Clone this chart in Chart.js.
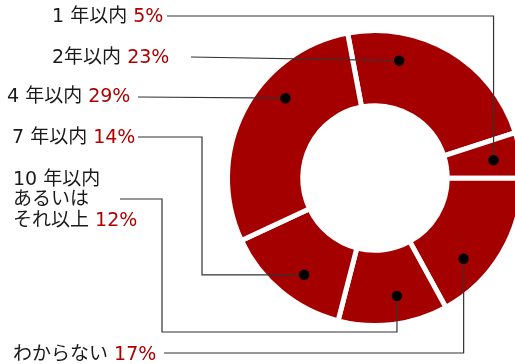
<!DOCTYPE html>
<html>
<head>
<meta charset="utf-8">
<script src="https://cdn.jsdelivr.net/npm/chart.js@4/dist/chart.umd.min.js"></script>
<style>
  html, body { margin: 0; padding: 0; background: #fff; overflow: hidden; }
  #wrap { position: relative; width: 540px; height: 364px; }
</style>
</head>
<body>
<div id="wrap"><canvas id="chartRing" width="540" height="364"></canvas></div>
<script>
// ring segments, clockwise from just left of 12 o'clock
const categories = [
  ['2年以内'],
  ['1 年以内'],
  ['わからない'],
  ['10 年以内', 'あるいは', 'それ以上'],
  ['7 年以内'],
  ['4 年以内']
];
const values = [23, 5, 17, 12, 14, 29];

// label placement and leader routes (one per segment, same order)
const callouts = [
  { tx: 52, ty: 58, lx: 191, ly: 57, route: [], at: 0.27 },
  { tx: 52, ty: 17, lx: 167, ly: 16, route: [{ x: 'dot' }], at: 0.52 },
  { tx: 13, ty: 355, lx: 164, ly: 353, route: [{ x: 'dot' }], at: 0.69 },
  { tx: 13, ty: 180, lx: 120, ly: 199, route: [{ x: 162 }, { y: 332 }, { x: 'dot' }], at: 0.42 },
  { tx: 12, ty: 138, lx: 138, ly: 137, route: [{ x: 202 }, { y: 'dot' }], at: 0.43 },
  { tx: 7, ty: 97, lx: 138, ly: 97, route: [], at: 0.64 }
];

const FONT = '19px "DejaVu Sans", "Noto Sans CJK JP", sans-serif';
const LINE_H = 20.5;

const calloutPlugin = {
  id: 'callouts',
  afterDatasetsDraw(chart) {
    const ctx = chart.ctx;
    const arcs = chart.getDatasetMeta(0).data;
    ctx.save();
    arcs.forEach((arc, i) => {
      const c = callouts[i];
      const p = arc.getProps(['x', 'y', 'startAngle', 'endAngle', 'innerRadius', 'outerRadius'], true);
      const a = p.startAngle + (p.endAngle - p.startAngle) * c.at;
      const r = p.innerRadius + (p.outerRadius - p.innerRadius) * 0.633;
      const dx = p.x + Math.cos(a) * r;
      const dy = p.y + Math.sin(a) * r;

      // leader line
      ctx.strokeStyle = '#333';
      ctx.lineWidth = 1.2;
      ctx.beginPath();
      let cx = c.lx, cy = c.ly;
      ctx.moveTo(cx, cy);
      c.route.forEach(s => {
        if ('x' in s) cx = s.x === 'dot' ? dx : s.x;
        if ('y' in s) cy = s.y === 'dot' ? dy : s.y;
        ctx.lineTo(cx, cy);
      });
      ctx.lineTo(dx, dy);
      ctx.stroke();

      // marker dot
      ctx.fillStyle = '#000';
      ctx.beginPath();
      ctx.arc(dx, dy, 5.2, 0, Math.PI * 2);
      ctx.fill();

      // label text, value appended to the last line
      ctx.font = FONT;
      ctx.textBaseline = 'middle';
      ctx.textAlign = 'left';
      const lines = categories[i];
      lines.forEach((ln, k) => {
        const y = c.ty + k * LINE_H;
        ctx.fillStyle = '#1a1a1a';
        ctx.fillText(ln, c.tx, y);
        if (k === lines.length - 1) {
          const w = ctx.measureText(ln + ' ').width;
          ctx.fillStyle = '#b00000';
          ctx.fillText(values[i] + '%', c.tx + w, y);
        }
      });
    });
    ctx.restore();
  }
};

new Chart(document.getElementById('chartRing'), {
  type: 'doughnut',
  data: {
    labels: categories,
    datasets: [{
      data: values,
      backgroundColor: '#a50000',
      borderColor: '#ffffff',
      borderWidth: 5,
      hoverOffset: 0
    }]
  },
  options: {
    responsive: false,
    animation: false,
    devicePixelRatio: 1,
    rotation: -10.7,
    cutout: '49%',
    layout: { padding: { left: 225, top: 28, right: 15, bottom: 36 } },
    plugins: { legend: { display: false }, tooltip: { enabled: false } }
  },
  plugins: [calloutPlugin]
});
</script>
</body>
</html>
